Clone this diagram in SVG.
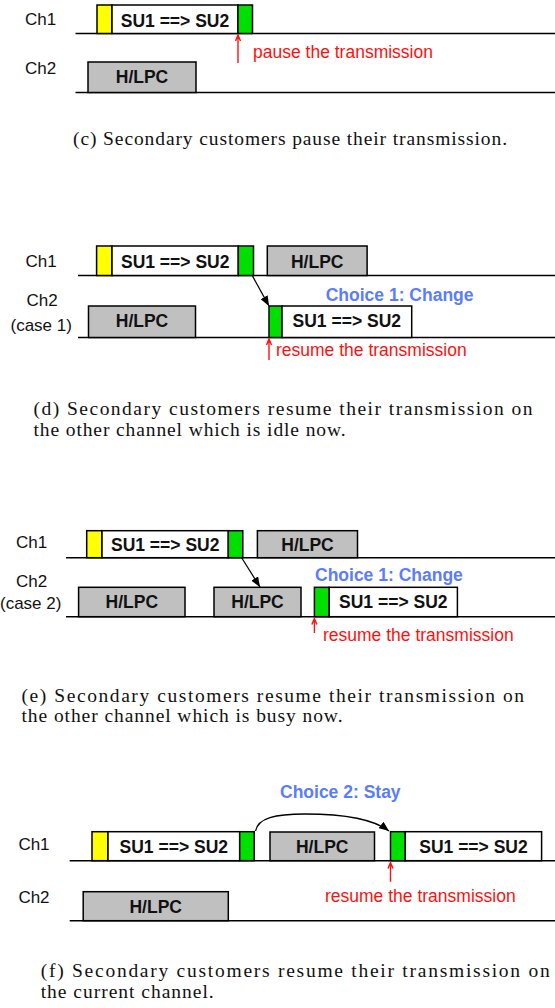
<svg xmlns="http://www.w3.org/2000/svg" width="555" height="1008" viewBox="0 0 555 1008">
  <defs>
    <style>
      .bg { fill: #ffffff; }
      .ch { fill: none; stroke: #000; stroke-width: 1.5; }
      .lbl { font-family: "Liberation Sans", Arial, sans-serif; font-size: 17px; fill: #111; }
      .box { stroke: #000; stroke-width: 1.5; }
      .y { fill: #ffff00; }
      .g { fill: #00e000; }
      .w { fill: #ffffff; }
      .p { fill: #c0c0c0; }
      .bt { font-family: "Liberation Sans", Arial, sans-serif; font-size: 17.5px; font-weight: bold; fill: #111; text-anchor: middle; }
      .red { font-family: "Liberation Sans", Arial, sans-serif; font-size: 17.5px; fill: #ff1010; }
      .blue { font-family: "Liberation Sans", Arial, sans-serif; font-size: 17.5px; font-weight: bold; fill: #5a7cff; }
      .cap { font-family: "Liberation Serif", "Times New Roman", serif; font-size: 19.5px; fill: #111; }
      .rarrow { fill: none; stroke: #ff1010; stroke-width: 1.4; }
      .karrow { fill: none; stroke: #000; stroke-width: 1.3; marker-end: url(#head); }
    </style>
    <marker id="head" viewBox="0 0 10 8" refX="10" refY="4" markerWidth="10" markerHeight="8" markerUnits="userSpaceOnUse" orient="auto">
      <path d="M0,0 L10,4 L0,8 Z" fill="#000"/>
    </marker>
  </defs>

  <rect class="bg" x="0" y="0" width="555" height="1008"/>

  <!-- (c) pause -->
  <g id="panel-c">
    <text class="lbl" x="25" y="25">Ch1</text>
    <text class="lbl" x="25" y="74">Ch2</text>
    <path class="ch" d="M75.5,33.5 H555 M75.5,92.5 H555"/>
    <g id="c-su">
      <rect class="box y" x="97" y="5" width="15" height="28.5"/>
      <rect class="box w" x="112" y="5" width="126" height="28.5"/>
      <rect class="box g" x="238" y="5" width="14.5" height="28.5"/>
      <text class="bt" x="175" y="26.5">SU1 ==&gt; SU2</text>
    </g>
    <g id="c-hlpc">
      <rect class="box p" x="88" y="62" width="108" height="30.5"/>
      <text class="bt" x="142" y="83">H/LPC</text>
    </g>
    <g id="c-pause">
      <path class="rarrow" d="M238,63 V35 M235.5,41 L238,35 L240.5,41"/>
      <text class="red" x="253" y="58">pause the transmission</text>
    </g>
    <text class="cap" x="73" y="145" textLength="434" lengthAdjust="spacing">(c) Secondary customers pause their transmission.</text>
  </g>

  <!-- (d) change to idle channel -->
  <g id="panel-d">
    <text class="lbl" x="25.5" y="267">Ch1</text>
    <text class="lbl" x="26.5" y="306">Ch2</text>
    <text class="lbl" x="10.5" y="331">(case 1)</text>
    <path class="ch" d="M78,275.5 H555 M78,337.5 H555"/>
    <g id="d-su1">
      <rect class="box y" x="96.6" y="246" width="15.4" height="29.5"/>
      <rect class="box w" x="112" y="246" width="126.3" height="29.5"/>
      <rect class="box g" x="238.3" y="246" width="15.2" height="29.5"/>
      <text class="bt" x="175.2" y="268">SU1 ==&gt; SU2</text>
    </g>
    <g id="d-hlpc1">
      <rect class="box p" x="267.3" y="246" width="99.8" height="29.5"/>
      <text class="bt" x="317.2" y="268">H/LPC</text>
    </g>
    <g id="d-hlpc2">
      <rect class="box p" x="88.5" y="306" width="107" height="31.5"/>
      <text class="bt" x="142" y="327">H/LPC</text>
    </g>
    <g id="d-su2">
      <rect class="box g" x="269" y="306" width="13" height="31.5"/>
      <rect class="box w" x="282" y="306" width="129.7" height="31.5"/>
      <text class="bt" x="346.8" y="327">SU1 ==&gt; SU2</text>
    </g>
    <text class="blue" x="325.7" y="300.5">Choice 1: Change</text>
    <g id="d-resume">
      <path class="rarrow" d="M269,360 V339 M266.5,345 L269,339 L271.5,345"/>
      <text class="red" x="276" y="356">resume the transmission</text>
    </g>
    <text class="cap" x="33.5" y="415" textLength="499" lengthAdjust="spacing">(d) Secondary customers resume their transmission on</text>
    <text class="cap" x="33.5" y="435.5" textLength="312" lengthAdjust="spacing">the other channel which is idle now.</text>
  </g>

  <!-- (e) change to busy channel -->
  <g id="panel-e">
    <text class="lbl" x="16" y="548">Ch1</text>
    <text class="lbl" x="16" y="587">Ch2</text>
    <text class="lbl" x="0" y="609">(case 2)</text>
    <path class="ch" d="M66,557.7 H555 M66,616.7 H555"/>
    <g id="e-su1">
      <rect class="box y" x="86.7" y="530.7" width="15.3" height="27"/>
      <rect class="box w" x="102" y="530.7" width="126.3" height="27"/>
      <rect class="box g" x="228.3" y="530.7" width="14.5" height="27"/>
      <text class="bt" x="165.2" y="551">SU1 ==&gt; SU2</text>
    </g>
    <g id="e-hlpc1">
      <rect class="box p" x="257.4" y="530.7" width="100.1" height="27"/>
      <text class="bt" x="307.5" y="551">H/LPC</text>
    </g>
    <g id="e-hlpc2">
      <rect class="box p" x="78.6" y="587.3" width="106.4" height="29.4"/>
      <text class="bt" x="131.8" y="608">H/LPC</text>
    </g>
    <g id="e-hlpc3">
      <rect class="box p" x="214" y="587.3" width="87" height="29.4"/>
      <text class="bt" x="257.5" y="608">H/LPC</text>
    </g>
    <g id="e-su2">
      <rect class="box g" x="314.4" y="587.3" width="14.8" height="29.4"/>
      <rect class="box w" x="329.2" y="587.3" width="128.2" height="29.4"/>
      <text class="bt" x="393.3" y="608">SU1 ==&gt; SU2</text>
    </g>
    <text class="blue" x="315" y="581">Choice 1: Change</text>
    <g id="e-resume">
      <path class="rarrow" d="M314.4,633 V618.5 M311.9,624.5 L314.4,618.5 L316.9,624.5"/>
      <text class="red" x="323" y="640.7">resume the transmission</text>
    </g>
    <text class="cap" x="21.5" y="701.5" textLength="502.5" lengthAdjust="spacing">(e) Secondary customers resume their transmission on</text>
    <text class="cap" x="21.5" y="722" textLength="321" lengthAdjust="spacing">the other channel which is busy now.</text>
  </g>

  <!-- (f) stay on current channel -->
  <g id="panel-f">
    <text class="blue" x="280" y="798">Choice 2: Stay</text>
    <text class="lbl" x="18.4" y="850">Ch1</text>
    <text class="lbl" x="18.4" y="902.5">Ch2</text>
    <path class="ch" d="M69.7,860.7 H555 M69.7,920.7 H555"/>
    <g id="f-su1">
      <rect class="box y" x="92" y="831.7" width="16" height="29"/>
      <rect class="box w" x="108" y="831.7" width="131.7" height="29"/>
      <rect class="box g" x="239.7" y="831.7" width="14.5" height="29"/>
      <text class="bt" x="173.8" y="852.5">SU1 ==&gt; SU2</text>
    </g>
    <g id="f-hlpc1">
      <rect class="box p" x="270" y="832" width="104.5" height="28.7"/>
      <text class="bt" x="322.2" y="852.5">H/LPC</text>
    </g>
    <g id="f-su2">
      <rect class="box g" x="390.5" y="831.7" width="14.8" height="29"/>
      <rect class="box w" x="405.3" y="831.7" width="136.3" height="29"/>
      <text class="bt" x="473.5" y="852.5">SU1 ==&gt; SU2</text>
    </g>
    <g id="f-hlpc2">
      <rect class="box p" x="83.2" y="891.7" width="145.1" height="29"/>
      <text class="bt" x="155.7" y="912.5">H/LPC</text>
    </g>
    <g id="f-resume">
      <path class="rarrow" d="M390.5,881.7 V862.5 M388,868.5 L390.5,862.5 L393,868.5"/>
      <text class="red" x="325" y="901.7">resume the transmission</text>
    </g>
    <text class="cap" x="40.7" y="977" textLength="509" lengthAdjust="spacing">(f) Secondary customers resume their transmission on</text>
    <text class="cap" x="40.7" y="997.5" textLength="173" lengthAdjust="spacing">the current channel.</text>
  </g>

  <!-- connectors -->
  <g id="connectors">
    <path class="karrow" d="M252.5,276 L269,306"/>
    <path class="karrow" d="M241.8,558 L260,587"/>
    <path class="karrow" d="M255.5,831 C258,818 275,814 305,814 C340,814 372,818 389,831"/>
  </g>
</svg>
